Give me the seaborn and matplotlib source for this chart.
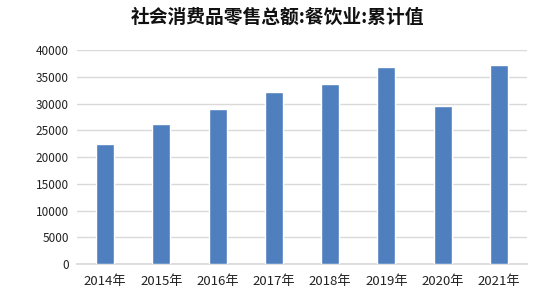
import matplotlib
matplotlib.use("Agg")
import matplotlib.pyplot as plt
import seaborn as sns
import pandas as pd

years = ["2014年", "2015年", "2016年", "2017年", "2018年", "2019年", "2020年", "2021年"]
values = [22500, 26200, 29000, 32200, 33700, 36900, 29500, 37200]
title = "社会消费品零售总额:餐饮业:累计值"

sns.set_theme(style="white")
plt.rcParams['font.family'] = ['Noto Sans CJK SC', 'DejaVu Sans']

df = pd.DataFrame({"year": years, "value": values})

fig = plt.figure(figsize=(5.5, 3.0), dpi=100)
ax = fig.add_axes([0.14, 0.12, 0.818, 0.713])
sns.barplot(data=df, x="year", y="value", color="#4F7FBE", saturation=1,
            width=0.32, ax=ax, zorder=3)

ax.set_ylim(0, 40000)
ax.set_yticks(range(0, 40001, 5000))
ax.set_yticklabels([str(v) for v in range(0, 40001, 5000)], fontsize=8.5, color="#222222")
ax.set_xticks(range(len(years)))
ax.set_xticklabels(years, fontsize=9.5, color="#222222")
ax.set_xlabel("")
ax.set_ylabel("")
ax.grid(axis="y", color="#D9D9D9", linewidth=1, zorder=0)
for s in ["top", "right", "left"]:
    ax.spines[s].set_visible(False)
ax.spines["bottom"].set_color("#D9D9D9")
ax.tick_params(axis="both", length=0)
ax.tick_params(axis="y", pad=6)
ax.tick_params(axis="x", pad=8)
ax.set_xlim(-0.5, len(years) - 0.5)

fig.text(0.504, 0.943, title, ha="center", va="center", fontsize=13.5,
         fontweight="bold", color="#111111")
fig.savefig("out.png", dpi=100, facecolor="white")
